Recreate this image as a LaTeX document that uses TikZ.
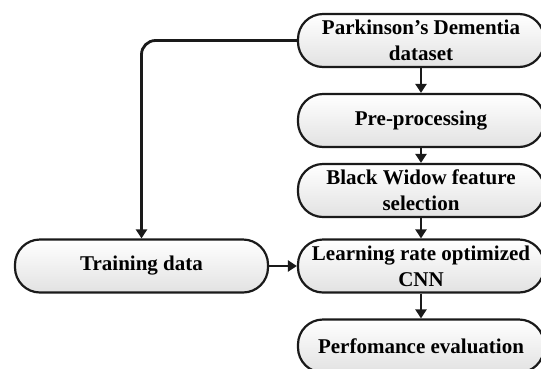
\documentclass[tikz,border=0pt]{standalone}
\usepackage{fontspec}
\setmainfont{Liberation Serif}
\usetikzlibrary{arrows.meta}

\begin{document}
\begin{tikzpicture}[x=1pt, y=-1pt]
    % Define colours
    \definecolor{borderColour}{HTML}{1A1A1A}
    \definecolor{fillTop}{HTML}{FFFFFF}
    \definecolor{fillBottom}{HTML}{E2E2E2}

    % Styles for the stages and the arrows
    \tikzset{
        stage/.style={rectangle, rounded corners=25pt, draw=borderColour, line width=2.2pt,
            top color=fillTop, bottom color=fillBottom,
            minimum width=246pt, minimum height=53pt, inner sep=0pt, align=center,
            font=\fontsize{21}{26}\selectfont\bfseries},
        flow/.style={draw=borderColour, line width=2.8pt, -{Triangle[length=9pt,width=11pt]}}
    }

    % Fix the page size
    \clip (0,0) rectangle (541,368);

    % Draw the stages of the pipeline
    \node[stage] (dataset) at (421,40.5) {Parkinson's Dementia\\dataset};
    \node[stage] (preproc) at (421,120.5) {Pre-processing};
    \node[stage] (widow) at (421,190.5) {Black Widow feature\\selection};
    \node[stage] (cnn) at (421,266) {Learning rate optimized\\CNN};
    \node[stage] (evaluation) at (421,346) {Perfomance evaluation};

    % Draw the training data stage
    \node[stage, minimum width=253pt] (training) at (141.5,266) {Training data};

    % Draw the arrows
    \draw[flow] (dataset) -- (preproc);
    \draw[flow] (preproc) -- (widow);
    \draw[flow] (widow) -- (cnn);
    \draw[flow] (cnn) -- (evaluation);
    \draw[flow] (training) -- (cnn);
    \draw[flow, rounded corners=14pt] (dataset.west) -| (training.north);
\end{tikzpicture}
\end{document}
